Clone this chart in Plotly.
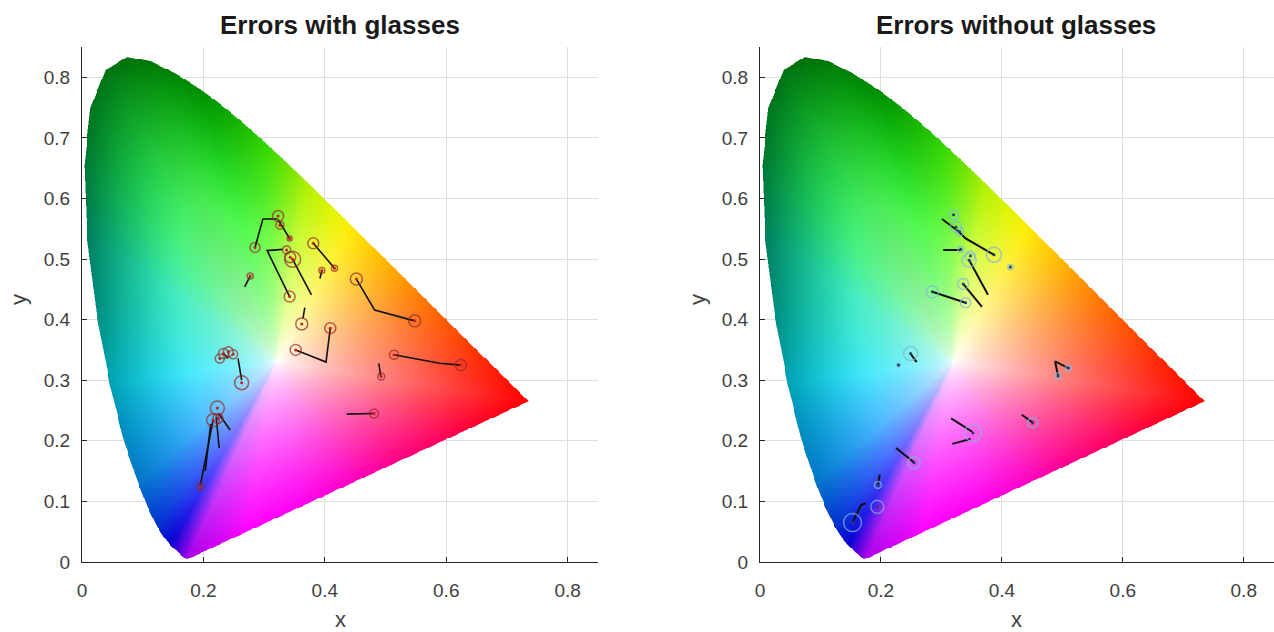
import numpy as np
import zlib, struct, base64
import plotly.graph_objects as go

# ---------------- DATA ----------------
# CIE 1931 spectral locus (380-700 nm)
locus_x = [0.1741, 0.1740, 0.1738, 0.1736, 0.1733, 0.1730, 0.1726, 0.1721, 0.1714, 0.1703,
           0.1689, 0.1669, 0.1644, 0.1611, 0.1566, 0.1510, 0.1440, 0.1355, 0.1241, 0.1096,
           0.0913, 0.0687, 0.0454, 0.0235, 0.0082, 0.0039, 0.0139, 0.0389, 0.0743, 0.1142,
           0.1547, 0.1929, 0.2296, 0.2658, 0.3016, 0.3373, 0.3731, 0.4087, 0.4441, 0.4788,
           0.5125, 0.5448, 0.5752, 0.6029, 0.6270, 0.6482, 0.6658, 0.6801, 0.6915, 0.7006,
           0.7079, 0.7140, 0.7190, 0.7230, 0.7260, 0.7283, 0.7300, 0.7311, 0.7320, 0.7334,
           0.7344, 0.7347]
locus_y = [0.0050, 0.0050, 0.0049, 0.0049, 0.0048, 0.0048, 0.0048, 0.0048, 0.0051, 0.0058,
           0.0069, 0.0086, 0.0109, 0.0138, 0.0177, 0.0227, 0.0297, 0.0399, 0.0578, 0.0868,
           0.1327, 0.2007, 0.2950, 0.4127, 0.5384, 0.6548, 0.7502, 0.8120, 0.8338, 0.8262,
           0.8059, 0.7816, 0.7543, 0.7243, 0.6923, 0.6589, 0.6245, 0.5896, 0.5547, 0.5202,
           0.4866, 0.4544, 0.4242, 0.3965, 0.3725, 0.3514, 0.3340, 0.3197, 0.3083, 0.2993,
           0.2920, 0.2859, 0.2809, 0.2770, 0.2740, 0.2717, 0.2700, 0.2689, 0.2680, 0.2666,
           0.2656, 0.2653]

# Errors with glasses: error paths and circles
glasses_paths_x = [[0.285, 0.298, 0.322], [0.323, 0.342], [0.342, 0.305, 0.331],
                   [0.347, 0.378], [0.381, 0.416], [0.395, 0.392], [0.277, 0.268],
                   [0.452, 0.482, 0.548], [0.367, 0.364], [0.409, 0.402, 0.352],
                   [0.257, 0.263], [0.514, 0.589, 0.624], [0.492, 0.489], [0.481, 0.436],
                   [0.216, 0.195], [0.221, 0.226], [0.225, 0.244], [0.212, 0.203],
                   [0.233, 0.241]]
glasses_paths_y = [[0.519, 0.566, 0.566], [0.565, 0.534], [0.438, 0.514, 0.516],
                   [0.4995, 0.441], [0.526, 0.485], [0.481, 0.468], [0.472, 0.454],
                   [0.467, 0.416, 0.398], [0.420, 0.402], [0.386, 0.330, 0.350],
                   [0.336, 0.300], [0.342, 0.328, 0.325], [0.307, 0.328], [0.245, 0.244],
                   [0.234, 0.127], [0.240, 0.188], [0.245, 0.218], [0.228, 0.150],
                   [0.344, 0.336]]
glasses_circle_x = [0.323, 0.326, 0.342, 0.285, 0.337, 0.342, 0.347, 0.343, 0.381, 0.416,
                    0.395, 0.277, 0.452, 0.548, 0.362, 0.409, 0.352, 0.233, 0.241, 0.249,
                    0.227, 0.263, 0.514, 0.624, 0.493, 0.481, 0.223, 0.216, 0.224, 0.195]
glasses_circle_y = [0.571, 0.556, 0.534, 0.519, 0.515, 0.438, 0.4995, 0.503, 0.526, 0.485,
                    0.481, 0.472, 0.467, 0.398, 0.393, 0.386, 0.350, 0.344, 0.347, 0.343,
                    0.336, 0.296, 0.342, 0.325, 0.306, 0.245, 0.254, 0.234, 0.237, 0.124]
glasses_circle_size = [11, 8, 5, 10, 8, 11, 16, 11, 11, 6,
                       6, 6, 12, 12, 12, 11, 11, 10, 10, 9,
                       9, 14, 9, 11, 7, 9, 14, 13, 10, 7]

# Errors without glasses
noglass_paths_x = [[0.301, 0.329, 0.340, 0.387], [0.303, 0.332], [0.346, 0.377],
                   [0.336, 0.367], [0.285, 0.340], [0.249, 0.259],
                   [0.510, 0.488, 0.493], [0.316, 0.351], [0.318, 0.348],
                   [0.433, 0.451], [0.225, 0.255], [0.198, 0.195],
                   [0.175, 0.167, 0.153]]
noglass_paths_y = [[0.566, 0.545, 0.534, 0.507], [0.515, 0.515], [0.498, 0.441],
                   [0.459, 0.421], [0.446, 0.428], [0.344, 0.330],
                   [0.320, 0.331, 0.307], [0.237, 0.215], [0.195, 0.203],
                   [0.243, 0.230], [0.188, 0.164], [0.144, 0.127],
                   [0.097, 0.094, 0.065]]
noglass_circle_x = [0.320, 0.324, 0.330, 0.387, 0.414, 0.332, 0.346, 0.348, 0.336, 0.285,
                    0.340, 0.249, 0.229, 0.510, 0.493, 0.352, 0.451, 0.255, 0.195, 0.194,
                    0.153]
noglass_circle_y = [0.573, 0.553, 0.545, 0.507, 0.487, 0.516, 0.498, 0.505, 0.459, 0.446,
                    0.428, 0.344, 0.325, 0.320, 0.307, 0.213, 0.230, 0.164, 0.127, 0.091,
                    0.065]
noglass_circle_size = [10, 11, 8, 15, 5, 6, 14, 10, 11, 12,
                       10, 14, 4, 6, 6, 17, 10, 12, 7, 13,
                       18]

x_ticks = [0, 0.2, 0.4, 0.6, 0.8]
x_tick_labels = ["0", "0.2", "0.4", "0.6", "0.8"]
y_ticks = [0, 0.1, 0.2, 0.3, 0.4, 0.5, 0.6, 0.7, 0.8]
y_tick_labels = ["0", "0.1", "0.2", "0.3", "0.4", "0.5", "0.6", "0.7", "0.8"]

# ---------------- GAMUT IMAGE (style) ----------------
WHITE = np.array([0.32, 0.33])
hue_ang = [-60, -25, -9, 8, 39, 61, 80, 93, 105, 116, 130, 146, 187, 221, 234, 240, 246, 260, 280, 300]
hue_r = [255, 255, 255, 255, 255, 255, 190, 60, 0, 0, 0, 0, 0, 0, 0, 10, 190, 255, 255, 255]
hue_g = [0, 0, 0, 70, 170, 235, 255, 250, 245, 225, 235, 230, 225, 150, 60, 0, 0, 0, 0, 0]
hue_b = [200, 90, 0, 0, 0, 0, 0, 0, 0, 20, 80, 170, 250, 255, 255, 255, 255, 255, 240, 200]
dark_ang = [-60, 70, 93, 105, 116, 130, 146, 187, 221, 240, 250, 260, 300]
dark_amt = [0, 0, 0.15, 0.42, 0.5, 0.5, 0.45, 0.28, 0.22, 0.18, 0.05, 0, 0]
sat_ang = [-60, 0, 60, 90, 120, 180, 230, 260, 300]
sat_exp = [0.75, 0.85, 0.9, 0.6, 0.5, 0.5, 0.6, 0.7, 0.75]


def png_uri(arr):
    h, w, _ = arr.shape
    raw = b"".join(b"\x00" + arr[i].tobytes() for i in range(h))

    def chunk(t, d):
        c = struct.pack(">I", len(d)) + t + d
        return c + struct.pack(">I", zlib.crc32(t + d) & 0xFFFFFFFF)
    data = (b"\x89PNG\r\n\x1a\n" + chunk(b"IHDR", struct.pack(">IIBBBBB", w, h, 8, 6, 0, 0, 0))
            + chunk(b"IDAT", zlib.compress(raw, 9)) + chunk(b"IEND", b""))
    return "data:image/png;base64," + base64.b64encode(data).decode()


def inside(px, py, vx, vy):
    res = np.zeros(px.shape, dtype=bool)
    n = len(vx)
    j = n - 1
    for i in range(n):
        xi, yi, xj, yj = vx[i], vy[i], vx[j], vy[j]
        cond = ((yi > py) != (yj > py))
        with np.errstate(divide="ignore", invalid="ignore"):
            xint = (xj - xi) * (py - yi) / (yj - yi + 1e-15) + xi
        res ^= cond & (px < xint)
        j = i
    return res


def gamut_image(dx):
    vx = np.array(locus_x)
    vy = np.array(locus_y)
    W = int(np.ceil(0.745 / dx))
    H = int(np.ceil(0.84 / dx))
    xc = dx / 2 + np.arange(W) * dx
    yc = dx / 2 + np.arange(H) * dx
    X, Y = np.meshgrid(xc, yc)
    alpha = np.zeros(X.shape)
    for ox in (-0.25, 0.25):
        for oy in (-0.25, 0.25):
            alpha += inside(X + ox * dx, Y + oy * dx, vx, vy)
    alpha /= 4.0
    px_ = np.append(vx, vx[0]); py_ = np.append(vy, vy[0])
    A = np.stack([px_[:-1], py_[:-1]], 1)
    E = np.stack([px_[1:], py_[1:]], 1) - A
    angs = np.linspace(-np.pi, np.pi, 3601)
    d = np.stack([np.cos(angs), np.sin(angs)], 1)
    AW = A - WHITE
    den = d[:, None, 0] * E[None, :, 1] - d[:, None, 1] * E[None, :, 0]
    num_r = AW[None, :, 0] * E[None, :, 1] - AW[None, :, 1] * E[None, :, 0]
    num_u = AW[None, :, 0] * d[:, None, 1] - AW[None, :, 1] * d[:, None, 0]
    with np.errstate(divide="ignore", invalid="ignore"):
        r = num_r / den
        u = num_u / den
    valid = (np.abs(den) > 1e-12) & (u >= -1e-9) & (u <= 1 + 1e-9) & (r > 0)
    r = np.where(valid, r, np.inf)
    Rg = r.min(1)
    dxp = X - WHITE[0]; dyp = Y - WHITE[1]
    th = np.arctan2(dyp, dxp)
    rr = np.hypot(dxp, dyp)
    Rth = np.interp(th, angs, Rg)
    t = np.clip(rr / Rth, 0, 1)
    a = (np.degrees(th) + 60) % 360 - 60
    C = np.stack([np.interp(a, hue_ang, hue_r), np.interp(a, hue_ang, hue_g),
                  np.interp(a, hue_ang, hue_b)], -1)
    Dk = np.interp(a, dark_ang, dark_amt)
    ex = np.interp(a, sat_ang, sat_exp)
    s = (t ** ex)[..., None]
    rgb = 255 * (1 - s) + C * s
    b = 1 - Dk * np.clip((t - 0.5) / 0.5, 0, 1) ** 1.4
    rgb = rgb * b[..., None]
    img = np.concatenate([rgb, (alpha * 255)[..., None]], -1)
    img = np.clip(np.round(img), 0, 255).astype(np.uint8)
    return img


DX = 0.0015
IMG = gamut_image(DX)
URI = png_uri(IMG)

# ---------------- FIGURE ----------------
fig = go.Figure()


def joined(paths):
    out = []
    for p in paths:
        out += list(p) + [None]
    return out


panels = [
    ("x", "y", glasses_paths_x, glasses_paths_y, glasses_circle_x, glasses_circle_y,
     glasses_circle_size, "#962a2a", "#c42020", 1.6),
    ("x2", "y2", noglass_paths_x, noglass_paths_y, noglass_circle_x, noglass_circle_y,
     noglass_circle_size, "#7db7da", "#1f3f70", 2.0),
]
for xa, ya, lx, ly, cx, cy, cs, ccol, dcol, lw in panels:
    fig.add_trace(go.Image(source=URI, x0=DX / 2, dx=DX, y0=DX / 2, dy=DX,
                           xaxis=xa, yaxis=ya, hoverinfo="skip"))
    fig.add_trace(go.Scatter(x=joined(lx), y=joined(ly), mode="lines", xaxis=xa, yaxis=ya,
                             line=dict(color="#111111", width=lw), hoverinfo="skip"))
    fig.add_trace(go.Scatter(x=cx, y=cy, mode="markers", xaxis=xa, yaxis=ya,
                             marker=dict(symbol="circle-open", size=cs, color=ccol,
                                         line=dict(width=1.5, color=ccol))))
    fig.add_trace(go.Scatter(x=cx, y=cy, mode="markers", xaxis=xa, yaxis=ya,
                             marker=dict(symbol="circle", size=3, color=dcol)))

tickfont = dict(family="Liberation Sans, Arial, sans-serif", size=19, color="#404040")
common = dict(range=[0, 0.85], autorange=False, showgrid=True, gridcolor="#dedede", gridwidth=1,
              zeroline=False, showline=True, linecolor="#262626", linewidth=1, mirror=False,
              ticks="inside", ticklen=5, tickcolor="#262626", tickfont=tickfont)

yb, yt = (632 - 562) / 632, (632 - 47) / 632
fig.update_layout(
    width=1274, height=632, margin=dict(l=0, r=0, t=0, b=0, pad=0),
    paper_bgcolor="white", plot_bgcolor="white", showlegend=False,
    xaxis=dict(domain=[82 / 1274, 598 / 1274], tickvals=x_ticks, ticktext=x_tick_labels,
               anchor="y", ticklabelstandoff=11, automargin=False, **common),
    yaxis=dict(domain=[yb, yt], tickvals=y_ticks, ticktext=y_tick_labels, anchor="x",
               scaleanchor=False, ticklabelstandoff=7, automargin=False, **common),
    xaxis2=dict(domain=[760 / 1274, 1.0], tickvals=x_ticks,
                ticktext=x_tick_labels, anchor="y2", ticklabelstandoff=11, automargin=False, **common),
    yaxis2=dict(domain=[yb, yt], tickvals=y_ticks, ticktext=y_tick_labels, anchor="x2",
                scaleanchor=False, ticklabelstandoff=7, automargin=False, **common),
)

ff = "Liberation Sans, Arial, sans-serif"
annos = [
    dict(text="<b>Errors with glasses</b>", x=340 / 1274, y=(632 - 25) / 632, font=dict(size=26, color="#1a1a1a", family=ff)),
    dict(text="<b>Errors without glasses</b>", x=1016 / 1274, y=(632 - 25) / 632, font=dict(size=26, color="#1a1a1a", family=ff)),
    dict(text="x", x=340 / 1274, y=(632 - 619) / 632, font=dict(size=22, color="#404040", family=ff)),
    dict(text="x", x=1016 / 1274, y=(632 - 619) / 632, font=dict(size=22, color="#404040", family=ff)),
    dict(text="y", x=18 / 1274, y=(632 - 300) / 632, textangle=-90, font=dict(size=22, color="#404040", family=ff)),
    dict(text="y", x=697 / 1274, y=(632 - 300) / 632, textangle=-90, font=dict(size=22, color="#404040", family=ff)),
]
for a in annos:
    fig.add_annotation(xref="paper", yref="paper", showarrow=False, xanchor="center",
                       yanchor="middle", **a)

fig.write_html("out.html", post_script="document.body.style.margin='0px';document.body.style.overflow='hidden';")
